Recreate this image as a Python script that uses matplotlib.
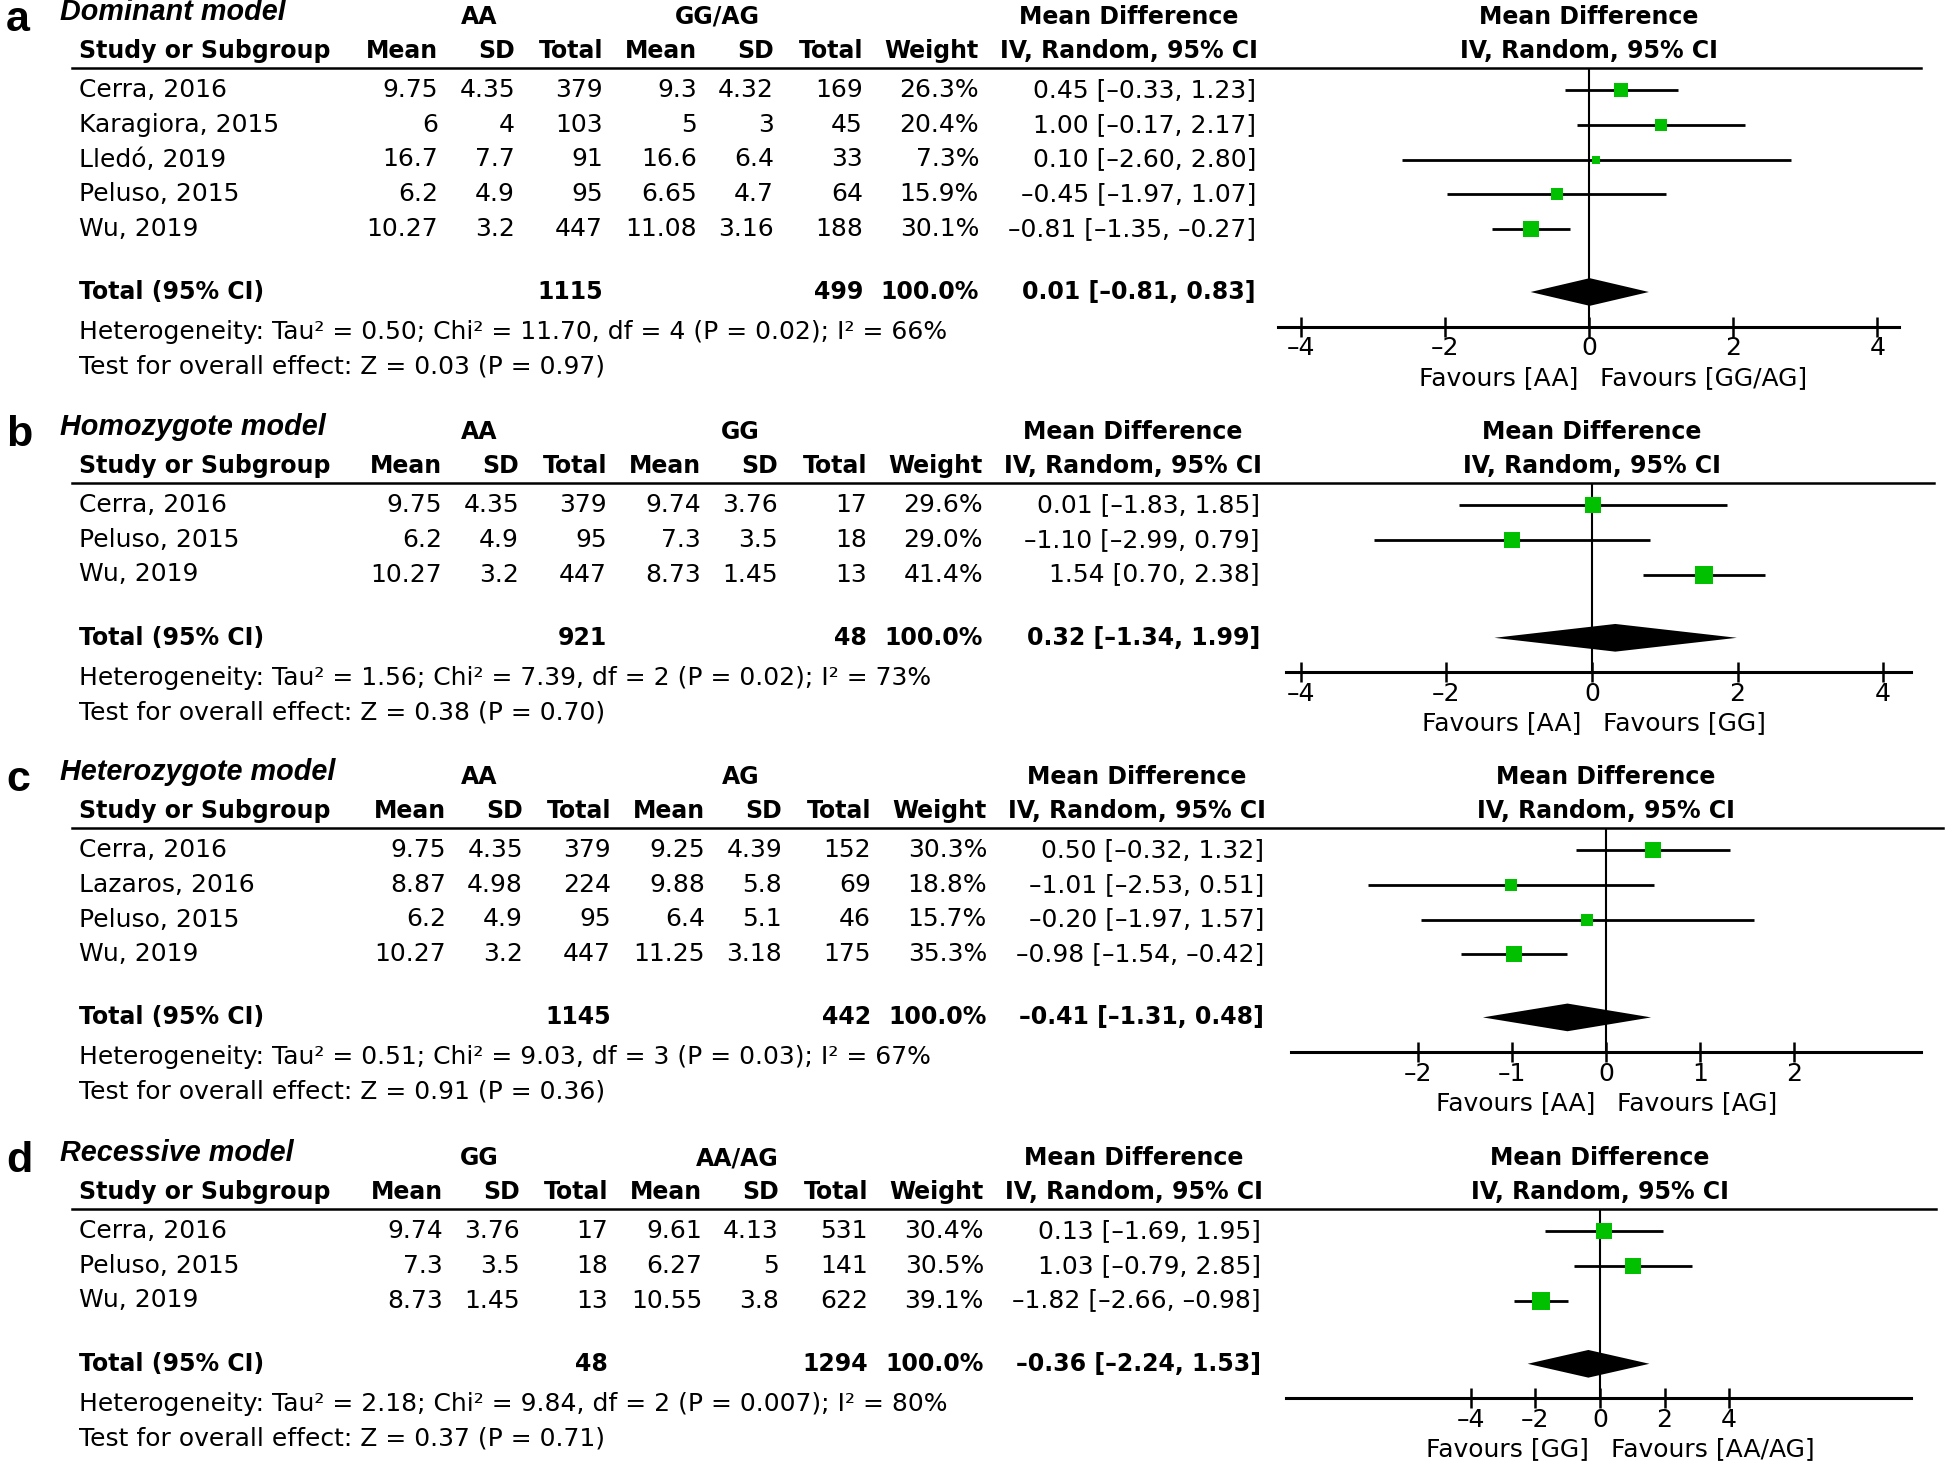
import numpy as np
import matplotlib.pyplot as plt

plt.rcParams['font.family'] = ['DejaVu Sans']

# ---- data ---------------------------------------------------------------
# a) dominant model: AA vs GG/AG
a_studies = ["Cerra, 2016", "Karagiora, 2015", "Lledó, 2019", "Peluso, 2015", "Wu, 2019"]
a_mean1 = [9.75, 6, 16.7, 6.2, 10.27]
a_sd1 = [4.35, 4, 7.7, 4.9, 3.2]
a_n1 = [379, 103, 91, 95, 447]
a_mean2 = [9.3, 5, 16.6, 6.65, 11.08]
a_sd2 = [4.32, 3, 6.4, 4.7, 3.16]
a_n2 = [169, 45, 33, 64, 188]
a_weight = [26.3, 20.4, 7.3, 15.9, 30.1]
a_md = [0.45, 1.00, 0.10, -0.45, -0.81]
a_lo = [-0.33, -0.17, -2.60, -1.97, -1.35]
a_hi = [1.23, 2.17, 2.80, 1.07, -0.27]
a_total = [1115, 499, 0.01, -0.81, 0.83]
a_het = "Heterogeneity: Tau² = 0.50; Chi² = 11.70, df = 4 (P = 0.02); I² = 66%"
a_z = "Test for overall effect: Z = 0.03 (P = 0.97)"

# b) homozygote model: AA vs GG
b_studies = ["Cerra, 2016", "Peluso, 2015", "Wu, 2019"]
b_mean1 = [9.75, 6.2, 10.27]
b_sd1 = [4.35, 4.9, 3.2]
b_n1 = [379, 95, 447]
b_mean2 = [9.74, 7.3, 8.73]
b_sd2 = [3.76, 3.5, 1.45]
b_n2 = [17, 18, 13]
b_weight = [29.6, 29.0, 41.4]
b_md = [0.01, -1.10, 1.54]
b_lo = [-1.83, -2.99, 0.70]
b_hi = [1.85, 0.79, 2.38]
b_total = [921, 48, 0.32, -1.34, 1.99]
b_het = "Heterogeneity: Tau² = 1.56; Chi² = 7.39, df = 2 (P = 0.02); I² = 73%"
b_z = "Test for overall effect: Z = 0.38 (P = 0.70)"

# c) heterozygote model: AA vs AG
c_studies = ["Cerra, 2016", "Lazaros, 2016", "Peluso, 2015", "Wu, 2019"]
c_mean1 = [9.75, 8.87, 6.2, 10.27]
c_sd1 = [4.35, 4.98, 4.9, 3.2]
c_n1 = [379, 224, 95, 447]
c_mean2 = [9.25, 9.88, 6.4, 11.25]
c_sd2 = [4.39, 5.8, 5.1, 3.18]
c_n2 = [152, 69, 46, 175]
c_weight = [30.3, 18.8, 15.7, 35.3]
c_md = [0.50, -1.01, -0.20, -0.98]
c_lo = [-0.32, -2.53, -1.97, -1.54]
c_hi = [1.32, 0.51, 1.57, -0.42]
c_total = [1145, 442, -0.41, -1.31, 0.48]
c_het = "Heterogeneity: Tau² = 0.51; Chi² = 9.03, df = 3 (P = 0.03); I² = 67%"
c_z = "Test for overall effect: Z = 0.91 (P = 0.36)"

# d) recessive model: GG vs AA/AG
d_studies = ["Cerra, 2016", "Peluso, 2015", "Wu, 2019"]
d_mean1 = [9.74, 7.3, 8.73]
d_sd1 = [3.76, 3.5, 1.45]
d_n1 = [17, 18, 13]
d_mean2 = [9.61, 6.27, 10.55]
d_sd2 = [4.13, 5, 3.8]
d_n2 = [531, 141, 622]
d_weight = [30.4, 30.5, 39.1]
d_md = [0.13, 1.03, -1.82]
d_lo = [-1.69, -0.79, -2.66]
d_hi = [1.95, 2.85, -0.98]
d_total = [48, 1294, -0.36, -2.24, 1.53]
d_het = "Heterogeneity: Tau² = 2.18; Chi² = 9.84, df = 2 (P = 0.007); I² = 80%"
d_z = "Test for overall effect: Z = 0.37 (P = 0.71)"

panels = [
    dict(letter="a", title="Dominant model", g1="AA", g2="GG/AG", fav=("Favours [AA]", "Favours [GG/AG]"),
         studies=a_studies, mean1=a_mean1, sd1=a_sd1, n1=a_n1, mean2=a_mean2, sd2=a_sd2, n2=a_n2,
         weight=a_weight, md=a_md, lo=a_lo, hi=a_hi, total=a_total, het=a_het, z=a_z,
         ticks=[-4, -2, 0, 2, 4],
         ul=68, ul_end=1921, dx=-3, g2x=717, fx=(1278, 1899), zero=1589, unit=72.1),
    dict(letter="b", title="Homozygote model", g1="AA", g2="GG", fav=("Favours [AA]", "Favours [GG]"),
         studies=b_studies, mean1=b_mean1, sd1=b_sd1, n1=b_n1, mean2=b_mean2, sd2=b_sd2, n2=b_n2,
         weight=b_weight, md=b_md, lo=b_lo, hi=b_hi, total=b_total, het=b_het, z=b_z,
         ticks=[-4, -2, 0, 2, 4],
         ul=483, ul_end=1934, dx=1, g2x=740, fx=(1286, 1911), zero=1592, unit=72.8),
    dict(letter="c", title="Heterozygote model", g1="AA", g2="AG", fav=("Favours [AA]", "Favours [AG]"),
         studies=c_studies, mean1=c_mean1, sd1=c_sd1, n1=c_n1, mean2=c_mean2, sd2=c_sd2, n2=c_n2,
         weight=c_weight, md=c_md, lo=c_lo, hi=c_hi, total=c_total, het=c_het, z=c_z,
         ticks=[-2, -1, 0, 1, 2],
         ul=828, ul_end=1943, dx=5, g2x=741, fx=(1291, 1921), zero=1606, unit=94.0),
    dict(letter="d", title="Recessive model", g1="GG", g2="AA/AG", fav=("Favours [GG]", "Favours [AA/AG]"),
         studies=d_studies, mean1=d_mean1, sd1=d_sd1, n1=d_n1, mean2=d_mean2, sd2=d_sd2, n2=d_n2,
         weight=d_weight, md=d_md, lo=d_lo, hi=d_hi, total=d_total, het=d_het, z=d_z,
         ticks=[-4, -2, 0, 2, 4],
         ul=1209, ul_end=1936, dx=2, g2x=737, fx=(1286, 1911), zero=1600, unit=32.3),
]

# ---- layout -------------------------------------------------------------
W, H = 1946, 1467
FS = 18
FSB = 17
GREEN = '#00c000'
DASH = '\u2013'
COLS = [441, 518, 606, 700, 777, 866, 982, 1259]   # right edges of the table columns
X_STUDY = 79
R0, PITCH = 22.3, 34.6


def fmt_ci(md, lo, hi):
    return f"{md:.2f} [{lo:.2f}, {hi:.2f}]".replace("-", DASH)


fig = plt.figure(figsize=(W / 100, H / 100), dpi=100)
tab = fig.add_axes([0, 0, 1, 1])
tab.set_xlim(0, W)
tab.set_ylim(H, 0)
tab.axis('off')

for p in panels:
    ul = p['ul']
    cols = [c + p['dx'] for c in COLS]
    n = len(p['studies'])
    ci_c = cols[7] - 127

    # panel letter and title rows
    tab.text(6, ul - 48, p['letter'], fontsize=31, fontweight='bold', family='Liberation Sans',
             va='center', ha='left')
    tab.text(60, ul - 56, p['title'], fontsize=20.7, fontweight='bold', fontstyle='italic',
             family='Liberation Sans', va='center', ha='left')
    tab.text(479, ul - 51, p['g1'], fontsize=FSB, fontweight='bold', ha='center', va='center')
    tab.text(p['g2x'], ul - 51, p['g2'], fontsize=FSB, fontweight='bold', ha='center', va='center')
    tab.text(ci_c, ul - 51, "Mean Difference", fontsize=FSB, fontweight='bold', ha='center', va='center')
    tab.text(p['zero'], ul - 51, "Mean Difference", fontsize=FSB, fontweight='bold', ha='center', va='center')

    hy = ul - 17
    tab.text(X_STUDY, hy, "Study or Subgroup", fontsize=FSB, fontweight='bold', va='center')
    for lab, cx in zip(["Mean", "SD", "Total", "Mean", "SD", "Total", "Weight"], cols[:7]):
        tab.text(cx, hy, lab, fontsize=FSB, fontweight='bold', ha='right', va='center')
    tab.text(ci_c, hy, "IV, Random, 95% CI", fontsize=FSB, fontweight='bold', ha='center', va='center')
    tab.text(p['zero'], hy, "IV, Random, 95% CI", fontsize=FSB, fontweight='bold', ha='center', va='center')
    tab.plot([72, p['ul_end']], [ul, ul], color='black', lw=1.8)

    # study rows
    for i in range(n):
        y = ul + R0 + PITCH * i
        tab.text(X_STUDY, y, p['studies'][i], fontsize=FS, va='center')
        vals = [f"{p['mean1'][i]:g}", f"{p['sd1'][i]:g}", str(p['n1'][i]),
                f"{p['mean2'][i]:g}", f"{p['sd2'][i]:g}", str(p['n2'][i]),
                f"{p['weight'][i]:.1f}%", fmt_ci(p['md'][i], p['lo'][i], p['hi'][i])]
        for v, cx in zip(vals, cols):
            tab.text(cx, y, v, fontsize=FS, ha='right', va='center')

    # total rows
    yt = (n - 1) + 63.3 / PITCH
    ty = ul + R0 + PITCH * yt
    tn1, tn2, tmd, tlo, thi = p['total']
    tab.text(X_STUDY, ty, "Total (95% CI)", fontsize=FSB, fontweight='bold', va='center')
    for v, cx in zip([str(tn1), str(tn2), "100.0%", fmt_ci(tmd, tlo, thi)],
                     [cols[2], cols[5], cols[6], cols[7]]):
        tab.text(cx, ty, v, fontsize=FSB, fontweight='bold', ha='right', va='center')
    tab.text(X_STUDY, ty + 39.7, p['het'], fontsize=FS, va='center')
    tab.text(X_STUDY, ty + 74.5, p['z'], fontsize=FS, va='center')
    tab.text(p['zero'] - 11, ty + 85.6, p['fav'][0], fontsize=FS, ha='right', va='center')
    tab.text(p['zero'] + 11, ty + 85.6, p['fav'][1], fontsize=FS, ha='left', va='center')

    # forest plot axes (rows in index units, x in mean difference)
    ybot = yt + 1.0
    ytop = -R0 / PITCH
    axis_px = ul + R0 + PITCH * ybot
    xl, xr = p['fx']
    ax = fig.add_axes([xl / W, 1 - axis_px / H, (xr - xl) / W, (axis_px - ul) / H])
    ax.set_facecolor('none')
    ax.set_xlim((xl - p['zero']) / p['unit'], (xr - p['zero']) / p['unit'])
    ax.set_ylim(ybot, ytop)
    for s in ['top', 'left', 'right']:
        ax.spines[s].set_visible(False)
    ax.spines['bottom'].set_linewidth(2.2)
    ax.set_yticks([])
    ax.set_xticks(p['ticks'], labels=[f"{t:g}".replace("-", DASH) for t in p['ticks']])
    ax.tick_params(axis='x', direction='inout', length=13.7, width=1.8, pad=0, labelsize=FS)
    ax.axvline(0, color='black', lw=1.5, zorder=1)

    rows = np.arange(n)
    ax.hlines(rows, p['lo'], p['hi'], color='black', lw=2.0, zorder=2)
    for i in range(n):
        ax.plot(p['md'][i], i, marker='s', ms=2.8 * np.sqrt(p['weight'][i]) * 0.72,
                color=GREEN, mew=0, zorder=3)
    ax.fill([tlo, tmd, thi, tmd], [yt, yt - 0.4, yt, yt + 0.4], color='black', zorder=3, lw=0)

fig.savefig('out.png', dpi=100)
